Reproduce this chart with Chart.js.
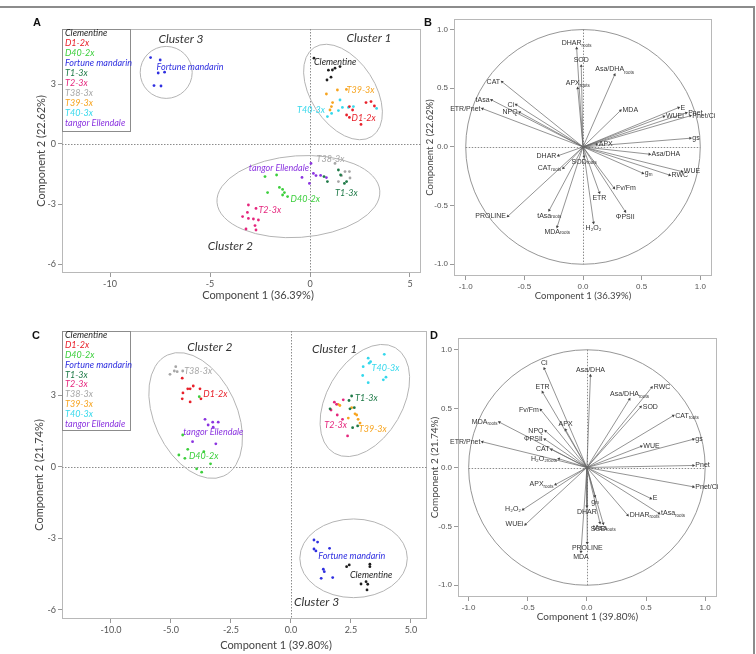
<!DOCTYPE html>
<html>
<head>
<meta charset="utf-8">
<script src="https://cdn.jsdelivr.net/npm/chart.js@4.4.1/dist/chart.umd.min.js"></script>
<style>
html, body { margin: 0; padding: 0; background: #fff; }
body { width: 756px; height: 654px; position: relative; overflow: hidden; }
canvas { position: absolute; }
#frame { position: absolute; left: -4px; top: 6px; width: 757px; height: 700px; border-top: 2px solid #8c8c8c; border-right: 2px solid #8c8c8c; }
.letter { position: absolute; font-family: "Liberation Sans", Arial, sans-serif; font-weight: bold; font-size: 11px; color: #111; transform: translate(-50%, -50%); }
.xtitle { position: absolute; font-family: Lato, sans-serif; font-size: 11px; color: #444; transform: translate(-50%, -50%); white-space: nowrap; }
</style>
</head>
<body>
<div id="frame"></div>
<canvas id="chartA" width="430" height="305" style="left:0px;top:0px"></canvas>
<canvas id="chartB" width="336" height="305" style="left:420px;top:0px"></canvas>
<canvas id="chartC" width="440" height="344" style="left:0px;top:310px"></canvas>
<canvas id="chartD" width="336" height="344" style="left:420px;top:310px"></canvas>
<div class="letter" style="left:37px;top:22px">A</div>
<div class="letter" style="left:428px;top:22px">B</div>
<div class="letter" style="left:36px;top:335px">C</div>
<div class="letter" style="left:434px;top:335px">D</div>
<div class="xtitle" style="left:258px;top:294px">Component 1 (36.39%)</div>
<div class="xtitle" style="left:276px;top:644px">Component 1 (39.80%)</div>
<script>
Chart.defaults.font.family = "Lato";

var groups = ["Clementine", "D1-2x", "D40-2x", "Fortune mandarin", "T1-3x", "T2-3x", "T38-3x", "T39-3x", "T40-3x", "tangor Ellendale"];
var groupColors = ["#1e1e1e", "#e8202a", "#3ccf3c", "#2f2fe0", "#1f7a48", "#e5267d", "#a6a6a6", "#f7a41f", "#35d8ec", "#8b34e0"];

// panel A scores (component 1, component 2)
var aClem = [[0.2, 4.29], [0.92, 3.69], [1.12, 3.7], [1.25, 3.79], [1.5, 3.87], [0.85, 3.2], [1.05, 3.34]];
var aD1 = [[1.97, 1.87], [2.13, 1.7], [1.83, 1.45], [1.97, 1.33], [2.55, 0.98], [2.8, 2.07], [3.05, 2.12], [3.22, 1.9]];
var aD40 = [[-2.25, -1.63], [-1.67, -1.55], [-2.12, -2.43], [-1.53, -2.17], [-1.37, -2.27], [-1.28, -2.43], [-1.37, -2.55], [-1.12, -2.63]];
var aFort = [[-7.97, 4.32], [-7.49, 4.2], [-7.59, 3.55], [-7.27, 3.59], [-7.8, 2.92], [-7.45, 2.9]];
var aT1 = [[0.7, -1.63], [0.87, -1.88], [1.42, -1.3], [1.83, -1.88], [1.72, -1.97], [1.53, -1.55]];
var aT2 = [[-3.08, -3.05], [-3.37, -3.63], [-3.13, -3.42], [-3.08, -3.72], [-2.83, -3.75], [-2.58, -3.8], [-3.2, -4.25], [-2.75, -4.08], [-2.7, -4.3], [-2.7, -3.22]];
var aT38 = [[1.25, -0.97], [1.75, -1.38], [1.97, -1.38], [1.58, -1.58], [1.42, -1.88], [2.0, -1.7]];
var aT39 = [[0.82, 2.5], [1.37, 2.7], [1.82, 2.73], [1.13, 2.07], [1.07, 1.87], [1.0, 1.7]];
var aT40 = [[0.87, 1.37], [1.08, 1.53], [1.42, 1.67], [1.62, 1.83], [1.92, 1.83], [2.17, 1.87], [3.33, 1.78], [1.5, 2.2]];
var aTang = [[0.05, -0.97], [-0.4, -1.67], [0.17, -1.47], [0.3, -1.58], [0.53, -1.57], [0.82, -1.68], [-0.03, -1.97]];

// panel C scores
var cClem = [[2.32, -4.19], [2.43, -4.12], [3.29, -4.09], [3.29, -4.19], [3.13, -4.82], [3.2, -4.93], [2.92, -4.92], [3.17, -5.17]];
var cD1 = [[-4.53, 3.73], [-4.3, 3.28], [-4.2, 3.28], [-4.07, 3.4], [-4.5, 3.11], [-4.53, 2.86], [-4.2, 2.73], [-3.75, 2.86], [-3.79, 3.28]];
var cD40 = [[-4.51, 1.34], [-4.67, 0.5], [-4.42, 0.36], [-4.3, 0.74], [-3.93, -0.08], [-3.72, -0.22], [-3.35, 0.13], [-3.63, 0.64], [-3.82, 2.95]];
var cFort = [[0.96, -3.07], [1.11, -3.16], [0.96, -3.45], [1.04, -3.53], [1.61, -3.42], [1.35, -4.3], [1.39, -4.4], [1.26, -4.68], [1.74, -4.65]];
var cT1 = [[2.42, 2.79], [2.46, 2.44], [2.64, 2.49], [2.57, 1.65], [2.78, 1.72], [1.63, 2.44], [2.53, 2.98]];
var cT2 = [[1.81, 2.72], [1.9, 2.63], [2.18, 2.82], [1.67, 2.39], [1.93, 2.18], [2.15, 2.0], [2.36, 1.3]];
var cT38 = [[-5.04, 3.89], [-4.86, 4.03], [-4.8, 4.21], [-4.74, 4.0], [-4.51, 4.03]];
var cT39 = [[1.97, 2.63], [2.04, 2.58], [2.53, 2.49], [2.67, 2.23], [2.74, 2.18], [2.8, 2.0], [2.88, 1.84], [2.39, 2.05]];
var cT40 = [[3.22, 4.57], [3.32, 4.42], [3.89, 4.73], [3.01, 4.21], [3.26, 4.36], [2.99, 3.84], [3.22, 3.54], [3.85, 3.66], [3.96, 3.77]];
var cTang = [[-3.58, 2.0], [-3.26, 1.88], [-3.03, 1.88], [-3.45, 1.76], [-3.24, 1.67], [-4.1, 1.06], [-3.13, 0.97]];

// group labels next to the points: text, x, y, side
var labelsA = [["Clementine", 0.2, 4.1, "left"], ["T39-3x", 1.83, 2.7, "left"], ["T40-3x", 0.75, 1.7, "right"], ["D1-2x", 2.08, 1.32, "left"],
  ["Fortune mandarin", -7.67, 3.85, "left"], ["T38-3x", 0.33, -0.75, "left"], ["tangor Ellendale", -0.05, -1.22, "right"],
  ["T1-3x", 1.25, -2.43, "left"], ["D40-2x", -0.97, -2.75, "left"], ["T2-3x", -2.58, -3.3, "left"]];
var labelsC = [["T38-3x", -4.45, 4.03, "left"], ["D1-2x", -3.65, 3.05, "left"], ["tangor Ellendale", -4.49, 1.46, "left"], ["D40-2x", -4.25, 0.46, "left"],
  ["T40-3x", 3.36, 4.15, "left"], ["T1-3x", 2.67, 2.91, "left"], ["T2-3x", 1.39, 1.74, "left"], ["T39-3x", 2.83, 1.58, "left"],
  ["Fortune mandarin", 1.14, -3.73, "left"], ["Clementine", 2.46, -4.54, "left"]];

// clusters: name, label x, label y, ellipse centre x, centre y, half axes, tilt (deg)
var clustersA = [["Cluster 1", 2.95, 5.3, 1.65, 2.6, 2.65, 1.6, 57], ["Cluster 2", -3.98, -5.09, -0.58, -2.63, 4.08, 2.04, -4], ["Cluster 3", -6.45, 5.25, -7.19, 3.58, 1.3, 1.3, 0]];
var clustersC = [["Cluster 1", 1.82, 4.95, 3.08, 2.79, 2.54, 1.58, -60], ["Cluster 2", -3.38, 5.03, -3.97, 2.16, 2.78, 1.72, 65], ["Cluster 3", 1.07, -5.68, 2.61, -3.84, 2.24, 1.64, 0]];

var ticksAx = [-10, -5, 0, 5];
var ticksAy = [-6, -3, 0, 3];
var ticksCx = [-7.5, -5, -2.5, 0, 2.5, 5];
var tickLabelsCx = ["-10.0", "-5.0", "-2.5", "0.0", "2.5", "5.0"];
var ticksCy = [-6, -3, 0, 3];
var ticksLoad = [-1, -0.5, 0, 0.5, 1];

// loadings B
var namesB = ["DHAR_roots", "SOD", "APX_roots", "Asa/DHA_roots", "MDA", "E", "Pnet", "WUEi", "Pnet/Ci", "gs", "APX", "Asa/DHA", "WUE", "RWC", "g_m",
  "Fv/Fm", "ΦPSII", "ETR", "H₂O₂", "SOD_roots", "DHAR", "CAT_roots", "tAsa_roots", "MDA_roots", "PROLINE", "CAT", "tAsa", "Ci", "NPQ", "ETR/Pnet"];
var pc1B = [-0.054, -0.015, -0.045, 0.27, 0.32, 0.815, 0.88, 0.69, 0.915, 0.915, 0.117, 0.567, 0.843, 0.738, 0.51,
  0.265, 0.36, 0.14, 0.09, 0.01, -0.21, -0.168, -0.288, -0.22, -0.64, -0.69, -0.78, -0.57, -0.54, -0.857];
var pc2B = [0.84, 0.69, 0.5, 0.615, 0.31, 0.335, 0.29, 0.26, 0.265, 0.074, 0.023, -0.062, -0.21, -0.24, -0.224,
  -0.35, -0.55, -0.39, -0.645, -0.083, -0.074, -0.18, -0.54, -0.68, -0.59, 0.555, 0.4, 0.36, 0.295, 0.326];

// loadings D
var namesD = ["Ci", "Asa/DHA", "ETR", "Fv/Fm", "MDA_roots", "APX", "NPQ", "ΦPSII", "CAT", "H₂O₂_roots", "ETR/Pnet", "RWC", "Asa/DHA_roots", "SOD", "CAT_roots",
  "gs", "WUE", "Pnet", "Pnet/Ci", "E", "tAsa_roots", "DHAR_roots", "g_m", "SOD_roots", "tAsa", "DHAR", "PROLINE", "MDA", "APX_roots", "H₂O₂", "WUEi"];
var pc1D = [-0.36, 0.03, -0.375, -0.39, -0.74, -0.18, -0.35, -0.356, -0.3, -0.237, -0.884, 0.548, 0.36, 0.455, 0.73,
  0.9, 0.46, 0.9, 0.9, 0.54, 0.61, 0.345, 0.068, 0.138, 0.11, 0.0, 0.003, -0.05, -0.265, -0.54, -0.52];
var pc2D = [0.84, 0.78, 0.64, 0.49, 0.385, 0.32, 0.31, 0.24, 0.153, 0.074, 0.218, 0.68, 0.58, 0.515, 0.44,
  0.24, 0.18, 0.017, -0.164, -0.263, -0.39, -0.405, -0.244, -0.476, -0.47, -0.33, -0.64, -0.716, -0.144, -0.357, -0.484];

function colorOf(name) {
  return groupColors[groups.indexOf(name)];
}

// label with optional subscript after "_"
function subLabel(ctx, text, x, y, align) {
  var parts = text.split("_");
  ctx.font = "7px 'Liberation Sans'";
  var w1 = ctx.measureText(parts[0]).width;
  var w2 = 0;
  if (parts[1]) {
    ctx.font = "4.5px 'Liberation Sans'";
    w2 = ctx.measureText(parts[1]).width;
  }
  var sx = x - (w1 + w2) / 2;
  if (align === "left") sx = x;
  if (align === "right") sx = x - w1 - w2;
  ctx.textAlign = "left";
  ctx.font = "7px 'Liberation Sans'";
  ctx.fillText(parts[0], sx, y);
  if (parts[1]) {
    ctx.font = "4.5px 'Liberation Sans'";
    ctx.fillText(parts[1], sx + w1, y + 2);
  }
}

var panelPlugin = {
  id: "panel",
  beforeDatasetsDraw: function(chart, args, o) {
    var ctx = chart.ctx, a = chart.chartArea;
    var xs = chart.scales.x, ys = chart.scales.y;
    ctx.save();
    ctx.strokeStyle = "#b8b8b8";
    ctx.lineWidth = 1;
    ctx.strokeRect(a.left + 0.5, a.top + 0.5, a.right - a.left - 1, a.bottom - a.top - 1);

    var x0 = Math.round(xs.getPixelForValue(0)) + 0.5;
    var y0 = Math.round(ys.getPixelForValue(0)) + 0.5;
    ctx.setLineDash([1.5, 1.5]);
    ctx.strokeStyle = "#8c8c8c";
    ctx.beginPath();
    if (o.unitCircle) {
      ctx.moveTo(xs.getPixelForValue(-1), y0); ctx.lineTo(xs.getPixelForValue(1), y0);
      ctx.moveTo(x0, ys.getPixelForValue(1)); ctx.lineTo(x0, ys.getPixelForValue(-1));
    } else {
      ctx.moveTo(a.left, y0); ctx.lineTo(a.right, y0);
      ctx.moveTo(x0, a.top); ctx.lineTo(x0, a.bottom);
    }
    ctx.stroke();
    ctx.setLineDash([]);

    var sx = xs.getPixelForValue(1) - xs.getPixelForValue(0);
    var sy = ys.getPixelForValue(0) - ys.getPixelForValue(1);
    if (o.unitCircle) {
      ctx.strokeStyle = "#8a8a8a";
      ctx.lineWidth = 0.9;
      ctx.beginPath();
      ctx.ellipse(xs.getPixelForValue(0), ys.getPixelForValue(0), sx, sy, 0, 0, Math.PI * 2);
      ctx.stroke();
    }

    var cl = o.clusters || [];
    for (var i = 0; i < cl.length; i++) {
      ctx.strokeStyle = "#b4b4b4";
      ctx.lineWidth = 1;
      ctx.beginPath();
      ctx.ellipse(xs.getPixelForValue(cl[i][3]), ys.getPixelForValue(cl[i][4]), cl[i][5] * sx, cl[i][6] * sx, cl[i][7] * Math.PI / 180, 0, Math.PI * 2);
      ctx.stroke();
      ctx.fillStyle = "#333";
      ctx.font = "italic 12px Lato";
      ctx.textAlign = "center";
      ctx.textBaseline = "middle";
      ctx.fillText(cl[i][0], xs.getPixelForValue(cl[i][1]), ys.getPixelForValue(cl[i][2]));
    }
    ctx.restore();
  },
  afterDatasetsDraw: function(chart, args, o) {
    var ctx = chart.ctx, a = chart.chartArea;
    var xs = chart.scales.x, ys = chart.scales.y;
    ctx.save();
    ctx.textBaseline = "middle";

    var lb = o.labels || [];
    ctx.font = "italic 9px Lato";
    for (var i = 0; i < lb.length; i++) {
      ctx.fillStyle = colorOf(lb[i][0]);
      ctx.textAlign = lb[i][3];
      ctx.fillText(lb[i][0], xs.getPixelForValue(lb[i][1]), ys.getPixelForValue(lb[i][2]));
    }

    if (o.legend) {
      ctx.strokeStyle = "#8c8c8c";
      ctx.lineWidth = 1;
      ctx.strokeRect(a.left + 0.5, a.top + 0.5, o.legend.w, o.legend.h);
      ctx.textAlign = "left";
      for (var j = 0; j < groups.length; j++) {
        ctx.fillStyle = groupColors[j];
        ctx.fillText(groups[j], a.left + 3, a.top + 4.5 + j * o.legend.step);
      }
    }

    if (o.arrows) {
      ctx.fillStyle = "#333";
      var n = o.arrows[0];
      for (var k = 0; k < n.length; k++) {
        var vx = o.arrows[1][k], vy = o.arrows[2][k];
        var px = xs.getPixelForValue(vx), py = ys.getPixelForValue(vy);
        var ang = Math.atan2(vy, vx) * 180 / Math.PI;
        if (ang > 55 && ang < 125) {
          ctx.textBaseline = "bottom";
          subLabel(ctx, n[k], px, py - 2, "center");
        } else if (ang < -55 && ang > -125) {
          ctx.textBaseline = "top";
          subLabel(ctx, n[k], px, py + 2, "center");
        } else if (vx >= 0) {
          ctx.textBaseline = "middle";
          subLabel(ctx, n[k], px + 2, py, "left");
        } else {
          ctx.textBaseline = "middle";
          subLabel(ctx, n[k], px - 2, py, "right");
        }
      }
    }
    ctx.restore();
  }
};

function axis(min, max, vals, labels, fontSize, fontFamily, fitSize, horizontal, title) {
  return {
    type: "linear",
    min: min,
    max: max,
    afterBuildTicks: function(s) {
      s.ticks = vals.map(function(v) { return { value: v }; });
    },
    afterFit: function(s) {
      if (horizontal) s.height = fitSize; else s.width = fitSize;
    },
    ticks: {
      autoSkip: false,
      maxRotation: 0,
      padding: 2,
      color: "#555",
      font: { size: fontSize, family: fontFamily },
      callback: function(v, i) { return labels[i]; }
    },
    grid: { drawOnChartArea: false, drawTicks: true, tickLength: 4, color: "#999" },
    border: { display: false },
    title: title
  };
}

function axisTitle(text, size) {
  return { display: true, text: text, color: "#444", font: { size: size, family: "Lato" }, padding: { top: 2, bottom: 2 } };
}

function scoreChart(id, sets, xr, yr, xv, xl, yv, pad, yFit, xFit, yTitle, labels, clusters, legendH) {
  var datasets = [];
  for (var i = 0; i < groups.length; i++) {
    datasets.push({
      label: groups[i],
      data: sets[i].map(function(p) { return { x: p[0], y: p[1] }; }),
      pointRadius: 1.4,
      pointBackgroundColor: groupColors[i],
      pointBorderWidth: 0,
      borderColor: groupColors[i]
    });
  }
  var yl = yv.map(function(v) { return String(v); });
  return new Chart(document.getElementById(id), {
    type: "scatter",
    data: { datasets: datasets },
    options: {
      responsive: false,
      animation: false,
      events: [],
      layout: { padding: pad },
      plugins: {
        legend: { display: false },
        tooltip: { enabled: false },
        panel: { labels: labels, clusters: clusters, legend: { w: 68, h: legendH, step: legendH === 102 ? 10 : 9.8 } }
      },
      scales: {
        x: axis(xr[0], xr[1], xv, xl, 9, "Lato", xFit, true, { display: false }),
        y: axis(yr[0], yr[1], yv, yl, 9, "Lato", yFit, false, axisTitle(yTitle, 11))
      }
    },
    plugins: [panelPlugin]
  });
}

function loadChart(id, names, pc1, pc2, xr, yr, pad, yFit, xFit, xTitle, yTitle, tSize) {
  var datasets = [];
  for (var i = 0; i < names.length; i++) {
    var ang = Math.atan2(pc2[i], pc1[i]) * 180 / Math.PI;
    datasets.push({
      label: names[i],
      showLine: true,
      data: [{ x: 0, y: 0 }, { x: pc1[i], y: pc2[i] }],
      borderColor: "#666",
      borderWidth: 0.7,
      pointRadius: [0, 1.8],
      pointStyle: "triangle",
      pointRotation: [0, 90 - ang],
      pointBackgroundColor: "#444",
      pointBorderWidth: 0
    });
  }
  var tl = ticksLoad.map(function(v) { return v.toFixed(1); });
  return new Chart(document.getElementById(id), {
    type: "scatter",
    data: { datasets: datasets },
    options: {
      responsive: false,
      animation: false,
      events: [],
      layout: { padding: pad },
      plugins: {
        legend: { display: false },
        tooltip: { enabled: false },
        panel: { unitCircle: true, arrows: [names, pc1, pc2] }
      },
      scales: {
        x: axis(xr[0], xr[1], ticksLoad, tl, 8, "Liberation Sans", xFit, true, axisTitle(xTitle, tSize)),
        y: axis(yr[0], yr[1], ticksLoad, tl, 8, "Liberation Sans", yFit, false, axisTitle(yTitle, tSize))
      }
    },
    plugins: [panelPlugin]
  });
}

var scoresA = [aClem, aD1, aD40, aFort, aT1, aT2, aT38, aT39, aT40, aTang];
var scoresC = [cClem, cD1, cD40, cFort, cT1, cT2, cT38, cT39, cT40, cTang];
var ticksAxLabels = ticksAx.map(function(v) { return String(v); });

scoreChart("chartA", scoresA, [-12.4, 5.55], [-6.45, 5.75], ticksAx, ticksAxLabels, ticksAy,
  { left: 33, top: 29, right: 9, bottom: 0 }, 29, 32, "Component 2 (22.62%)", labelsA, clustersA, 102);
scoreChart("chartC", scoresC, [-9.54, 5.67], [-6.39, 5.71], ticksCx, tickLabelsCx, ticksCy,
  { left: 31, top: 21, right: 13, bottom: 0 }, 31, 35, "Component 2 (21.74%)", labelsC, clustersC, 99);
loadChart("chartB", namesB, pc1B, pc2B, [-1.1, 1.1], [-1.1, 1.09],
  { left: 2, top: 19, right: 44, bottom: 1 }, 32, 28, "Component 1 (36.39%)", "Component 2 (22.62%)", 9.5);
loadChart("chartD", namesD, pc1D, pc2D, [-1.09, 1.1], [-1.1, 1.1],
  { left: 7, top: 28, right: 39, bottom: 29 }, 31, 28, "Component 1 (39.80%)", "Component 2 (21.74%)", 10);
</script>
</body>
</html>
